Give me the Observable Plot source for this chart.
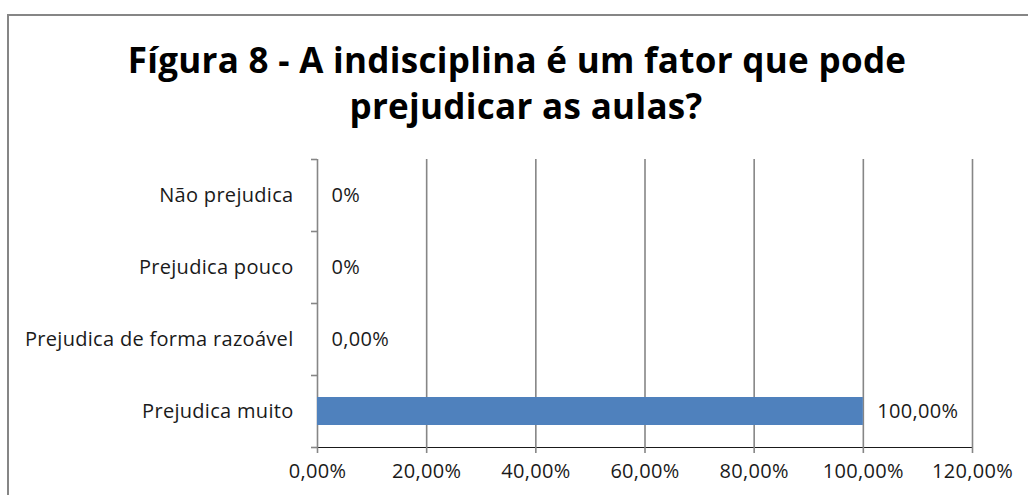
<!DOCTYPE html>
<html>
<head>
<meta charset="utf-8">
<script src="https://cdn.jsdelivr.net/npm/d3@7"></script>
<script src="https://cdn.jsdelivr.net/npm/@observablehq/plot@0.6"></script>
<style>
  html, body { margin: 0; padding: 0; background: #fff; overflow: hidden; }
  #wrap { position: relative; width: 1028px; height: 495px; overflow: hidden; font-family: "Open Sans", sans-serif; }
  #border { position: absolute; left: 7px; top: 14px; width: 1100px; height: 600px; border: 2px solid #868686; box-sizing: border-box; }
  #title { position: absolute; left: 0; top: 37px; width: 1034px; text-align: center; font-weight: bold; font-size: 35px; letter-spacing: 0.3px; line-height: 46px; color: #000; }
  #title .l2 { position: relative; left: 9px; }
  #chart { position: absolute; left: 0; top: 0; }
  #chart svg text { letter-spacing: 0.3px; }
</style>
</head>
<body>
<div id="wrap">
  <div id="border"></div>
  <div id="title">Fígura 8 - A indisciplina é um fator que pode<br><span class="l2">prejudicar as aulas?</span></div>
  <div id="chart"></div>
</div>
<script>
const categories = ["Não prejudica", "Prejudica pouco", "Prejudica de forma razoável", "Prejudica muito"];
const values = [0, 0, 0, 100];
const valueLabels = ["0%", "0%", "0,00%", "100,00%"];
const xTicks = [0, 20, 40, 60, 80, 100, 120];
const xTickLabels = ["0,00%", "20,00%", "40,00%", "60,00%", "80,00%", "100,00%", "120,00%"];
const yBoundaries = [0, 1, 2, 3, 4];

const data = categories.map((c, i) => ({category: c, idx: i, value: values[i], label: valueLabels[i]}));

const chart = Plot.plot({
  width: 1028,
  height: 495,
  marginLeft: 317,
  marginRight: 56,
  marginTop: 159,
  marginBottom: 48,
  style: {fontFamily: "'Open Sans', sans-serif", fontSize: "20px", color: "#1a1a1a", background: "transparent", overflow: "visible"},
  x: {domain: [0, 120], ticks: xTicks, tickFormat: d => xTickLabels[xTicks.indexOf(d)], tickSize: 6, tickPadding: 10, label: null, line: true},
  y: {domain: [0, 4], reverse: true, ticks: yBoundaries, tickFormat: () => "", tickSize: 6, label: null},
  marks: [
    Plot.ruleX(xTicks, {stroke: "#868686", strokeWidth: 1.6}),
    Plot.rectX(data, {x1: 0, x2: "value", y1: "idx", y2: d => d.idx + 1, fill: "#4F81BD", insetTop: 22, insetBottom: 22}),
    Plot.text(data, {x: "value", y: d => d.idx + 0.5, text: "label", textAnchor: "start", dx: 14, fontSize: 20, fill: "#1a1a1a"}),
    Plot.text(data, {y: d => d.idx + 0.5, text: "category", frameAnchor: "left", textAnchor: "end", dx: -24, fontSize: 20, fill: "#1a1a1a"})
  ]
});
chart.querySelectorAll("[aria-label='x-axis'] path, [aria-label='y-axis'] path, [aria-label='x-axis tick'] path, [aria-label='y-axis tick'] path").forEach(p => { p.setAttribute("stroke", "#868686"); p.setAttribute("stroke-width", "1.6"); });
chart.querySelectorAll("g[aria-label$='axis'], g[aria-label$='tick']").forEach(g => { if (g.getAttribute("stroke") === "currentColor") g.setAttribute("stroke", "#868686"); });
document.getElementById("chart").appendChild(chart);
</script>
</body>
</html>
